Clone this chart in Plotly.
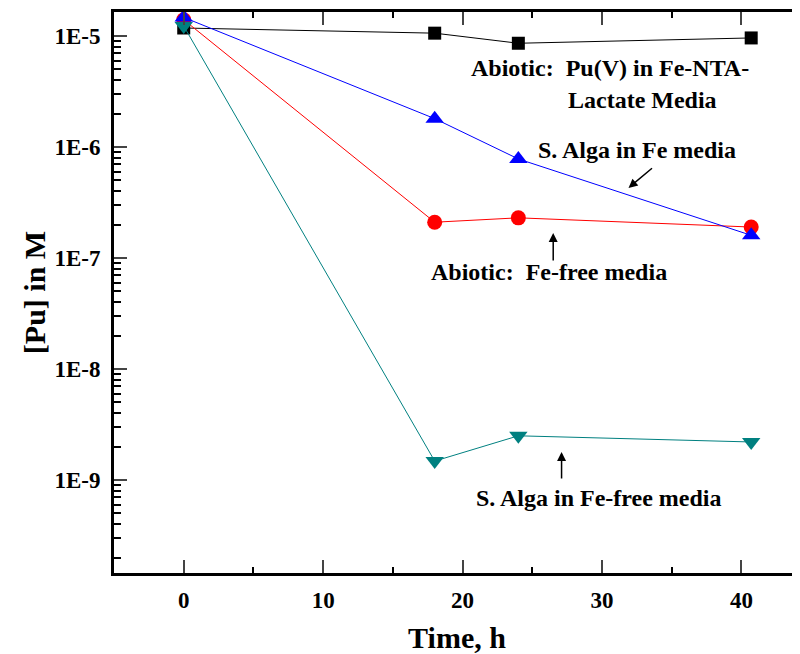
import plotly.graph_objects as go

time_h = [0, 18, 24, 40.7]
abiotic_fe_nta = [1.18e-5, 1.06e-5, 8.6e-6, 9.6e-6]
alga_fe = [1.47e-5, 1.8e-6, 7.8e-7, 1.6e-7]
abiotic_fe_free = [1.4e-5, 2.1e-7, 2.3e-7, 1.9e-7]
alga_fe_free = [1.23e-5, 1.48e-9, 2.5e-9, 2.2e-9]

y_tickvals = [1e-9, 1e-8, 1e-7, 1e-6, 1e-5]
y_ticktext = ["1E-9", "1E-8", "1E-7", "1E-6", "1E-5"]
y_minor = [k * 10.0 ** e for e in range(-10, -4) for k in range(2, 10)]
x_tickvals = [0, 10, 20, 30, 40]

FONT = "Liberation Serif"

fig = go.Figure()
series = [
    (abiotic_fe_nta, "black", "square", 13),
    (abiotic_fe_free, "red", "circle", 15),
    (alga_fe, "blue", "triangle-up", 16),
    (alga_fe_free, "#008080", "triangle-down", 16),
]
for ys, col, sym, sz in series:
    fig.add_trace(go.Scatter(x=time_h, y=ys, mode="lines+markers",
                             line=dict(color=col, width=1),
                             marker=dict(color=col, symbol=sym, size=sz, line=dict(width=0)),
                             showlegend=False, cliponaxis=True))

bold = dict(family=FONT, size=24, color="black", weight="bold")

def label(text, x, y):
    fig.add_annotation(x=x, y=y, xref="x", yref="y", text=text,
                       showarrow=False, font=bold)

label("Abiotic:&nbsp; Pu(V) in Fe-NTA-", 30.6, -5.288)
label("Lactate Media", 32.9, -5.577)
label("S. Alga in Fe media", 32.5, -6.027)
label("Abiotic:&nbsp; Fe-free media", 26.2, -7.126)
label("S. Alga in Fe-free media", 29.75, -9.162)

def arrow(x, y, ax, ay):
    fig.add_annotation(x=x, y=y, xref="x", yref="y", text="", showarrow=True,
                       ax=ax, ay=ay, arrowhead=2, arrowsize=1.2, arrowwidth=1.5,
                       arrowcolor="black")

arrow(31.9, -6.369, 25, -21)
arrow(26.5, -6.775, 0, 29)
arrow(27.1, -8.748, 0, 28)

fig.update_xaxes(range=[-5, 44.2], tickmode="array", tickvals=x_tickvals,
                 ticks="inside", ticklen=13, tickwidth=2, showline=True, linewidth=3,
                 linecolor="black", mirror="ticks", showgrid=False, zeroline=False,
                 automargin=False, ticklabelstandoff=4,
                 minor=dict(dtick=5, tick0=0, ticks="inside", ticklen=6, tickwidth=2,
                            tickcolor="black", showgrid=False),
                 tickfont=dict(family=FONT, size=23, color="black", weight="bold"),
                 title=dict(text="Time, h", font=dict(family=FONT, size=30, color="black", weight="bold"),
                            standoff=17))
fig.update_yaxes(type="log", range=[-9.838, -4.784], tickmode="array",
                 tickvals=y_tickvals, ticktext=y_ticktext,
                 ticks="inside", ticklen=13, tickwidth=2, showline=True, linewidth=3,
                 linecolor="black", mirror=False, showgrid=False, zeroline=False,
                 automargin=False, ticklabelstandoff=6,
                 minor=dict(tickmode="array", tickvals=y_minor, ticks="inside", ticklen=7,
                            tickwidth=2, tickcolor="black", showgrid=False),
                 tickfont=dict(family=FONT, size=23, color="black", weight="bold"),
                 title=dict(text="[Pu] in M", font=dict(family=FONT, size=30, color="black", weight="bold"),
                            standoff=0))

fig.update_layout(width=792, height=646, margin=dict(l=106, r=0, t=4, b=81),
                  plot_bgcolor="white", paper_bgcolor="white")

fig.write_html("out.html")
